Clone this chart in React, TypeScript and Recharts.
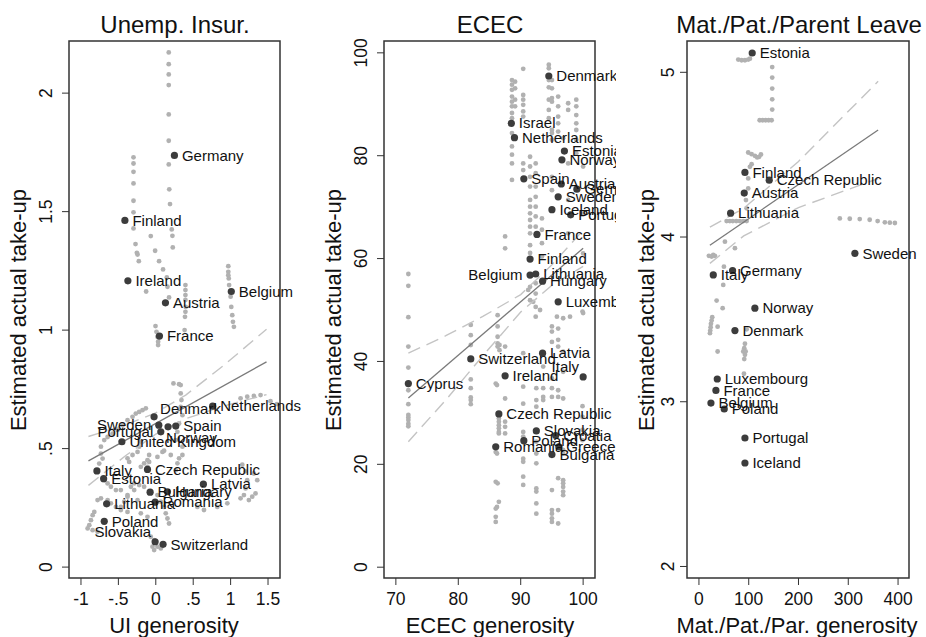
import React from 'react';
import { ScatterChart, Scatter, XAxis, YAxis, ReferenceArea } from 'recharts';

const FONT = '"Liberation Sans", Arial, Helvetica, sans-serif';

type Pt = [number, number];
type Country = [string, number, number];

// ---- Unemp. Insur. ----
const uiTicksX = [-1, -0.5, 0, 0.5, 1, 1.5];
const uiTicksY = [0, 0.5, 1, 1.5, 2];

const uiCountries: Country[] = [
  ['Germany', 0.249, 1.737], ['Finland', -0.413, 1.463], ['Ireland', -0.373, 1.208],
  ['Belgium', 1.009, 1.163], ['Austria', 0.129, 1.115], ['France', 0.049, 0.975],
  ['Netherlands', 0.76, 0.679], ['Denmark', -0.023, 0.634], ['Sweden', 0.04, 0.599],
  ['Portugal', 0.067, 0.571], ['Norway', 0.164, 0.592], ['Spain', 0.267, 0.595],
  ['United Kingdom', -0.453, 0.529], ['Italy', -0.787, 0.406], ['Estonia', -0.697, 0.373],
  ['Czech Republic', -0.111, 0.412], ['Latvia', 0.636, 0.35], ['Bulgaria', -0.076, 0.316],
  ['Hungary', 0.156, 0.318], ['Romania', -0.009, 0.274], ['Lithuania', -0.657, 0.267],
  ['Poland', -0.689, 0.193], ['Slovakia', -0.009, 0.107], ['Switzerland', 0.097, 0.096],
];

const uiGrey: Pt[] = [
  [0.173, 2.172], [0.173, 2.122], [0.173, 2.079], [0.173, 2.034], [0.173, 1.91], [0.173, 1.799],
  [0.173, 1.699], [0.18, 1.594], [0.19, 1.532], [0.213, 1.425], [0.222, 1.398], [0.227, 1.349],
  [-0.298, 1.729], [-0.298, 1.703], [-0.298, 1.668], [-0.298, 1.619], [-0.298, 1.546], [-0.298, 1.497],
  [-0.298, 1.429], [-0.271, 1.363], [-0.253, 1.326], [-0.244, 1.319], [-0.227, 1.291],
  [-0.067, 1.397], [-0.009, 1.335], [0.044, 1.291], [0.097, 1.256], [0.147, 1.222], [0.156, 1.183],
  [0.177, 1.138], [-0.129, 1.163],
  [0.396, 1.19], [0.396, 1.169], [0.396, 1.148], [0.396, 1.127], [0.4, 1.098], [0.396, 1.077],
  [0.39, 1.056], [0.385, 1.0],
  [0.969, 1.27], [0.969, 1.246], [0.969, 1.232], [0.975, 1.218], [0.98, 1.19], [1.0, 1.141],
  [1.009, 1.098], [1.022, 1.063], [1.031, 1.035], [1.044, 1.014],
  [-0.004, 1.017], [0.009, 0.993], [0.022, 0.972], [0.031, 0.951], [0.031, 0.937],
  [0.236, 0.775], [0.333, 0.768], [0.333, 0.733], [0.343, 0.705], [0.333, 0.676], [0.356, 0.641],
  [0.311, 0.606], [0.289, 0.571], [0.267, 0.536], [0.356, 0.508], [0.356, 0.473], [0.311, 0.772],
  [-0.267, 0.648], [-0.222, 0.655], [-0.178, 0.662], [-0.133, 0.67],
  [-0.311, 0.634], [-0.378, 0.62], [-0.444, 0.599], [-0.511, 0.578], [-0.578, 0.563], [-0.644, 0.549],
  [-0.689, 0.536], [-0.733, 0.508], [-0.733, 0.479], [-0.711, 0.458], [-0.756, 0.437],
  [-0.2, 0.529], [-0.222, 0.508], [-0.244, 0.486], [-0.311, 0.473], [-0.378, 0.459], [-0.356, 0.444],
  [0.111, 0.491], [0.2, 0.473], [0.311, 0.459], [-0.111, 0.451],
  [-0.089, 0.473], [-0.089, 0.444], [-0.111, 0.423], [0.289, 0.438], [0.267, 0.409],
  [0.089, 0.486], [0.022, 0.465], [-0.2, 0.423], [-0.156, 0.438],
  [1.156, 0.432], [1.2, 0.404], [1.222, 0.367], [1.2, 0.332], [1.178, 0.304], [1.133, 0.29],
  [1.244, 0.283], [1.289, 0.297], [1.333, 0.311], [1.356, 0.367], [1.311, 0.395],
  [-0.689, 0.367], [-0.644, 0.353], [-0.6, 0.339], [-0.533, 0.325], [-0.467, 0.325], [-0.378, 0.304],
  [-0.289, 0.353], [-0.222, 0.346], [-0.156, 0.339],
  [-0.822, 0.233], [-0.844, 0.219], [-0.867, 0.198], [-0.889, 0.177], [-0.911, 0.163], [-0.844, 0.156],
  [-0.778, 0.149],
  [-0.644, 0.283], [-0.6, 0.269], [-0.533, 0.254], [-0.467, 0.241], [-0.378, 0.233],
  [0.133, 0.227], [0.156, 0.205], [0.177, 0.184], [0.111, 0.254], [0.067, 0.276],
  [-0.067, 0.128], [-0.022, 0.114], [0.022, 0.086], [0.067, 0.079], [-0.044, 0.086], [-0.022, 0.072],
  [0.022, 0.304], [-0.244, 0.283],
  [0.556, 0.254], [0.644, 0.241], [0.822, 0.254], [0.956, 0.269],
  [1.133, 0.712], [1.222, 0.719], [1.311, 0.722], [1.4, 0.726], [1.533, 0.7], [1.62, 0.688],
  [-0.333, 0.339], [-0.289, 0.325], [-0.378, 0.297], [-0.422, 0.276], [-0.467, 0.254],
  [-0.778, 0.283], [-0.733, 0.29], [-0.2, 0.227], [-0.111, 0.212],
];

const uiFit: Pt[] = [[-0.9, 0.448], [1.48, 0.866]];
const uiUpper: Pt[] = [[-0.9, 0.551], [-0.4, 0.601], [0, 0.651], [0.4, 0.726], [0.9, 0.849], [1.48, 1.004]];
const uiLower: Pt[] = [[-0.9, 0.345], [-0.4, 0.471], [0, 0.561], [0.4, 0.626], [0.9, 0.679], [1.48, 0.728]];

// ---- ECEC ----
const ececTicksX = [70, 80, 90, 100];
const ececTicksY = [0, 20, 40, 60, 80, 100];

const ececCountries: Country[] = [
  ['Denmark', 94.5, 95.5], ['Israel', 88.5, 86.3], ['Netherlands', 89.0, 83.5],
  ['Estonia', 97.0, 80.9], ['Norway', 96.6, 79.2], ['Spain', 90.5, 75.5],
  ['Austria', 96.5, 74.5], ['Germany', 99.0, 73.5], ['Sweden', 96.0, 72.0],
  ['Iceland', 95.0, 69.5], ['Portugal', 98.0, 68.5], ['France', 92.6, 64.7],
  ['Finland', 91.5, 59.9], ['Belgium', 91.5, 56.8], ['Lithuania', 92.4, 57.0],
  ['Hungary', 93.5, 55.6], ['Luxembourg', 96.0, 51.6], ['Latvia', 93.5, 41.6],
  ['Italy', 100.0, 37.0], ['Switzerland', 82.0, 40.5], ['Ireland', 87.5, 37.2],
  ['Cyprus', 72.0, 35.7], ['Czech Republic', 86.5, 29.8], ['Slovakia', 92.5, 26.5],
  ['Croatia', 95.6, 25.6], ['Poland', 90.5, 24.6], ['Greece', 96.1, 23.4],
  ['Romania', 86.0, 23.4], ['Bulgaria', 95.0, 21.9],
];

const ececGrey: Pt[] = [
  [72, 57.0], [72, 54.7], [72, 48.6], [72, 42.9], [72, 38.8], [72, 34.4], [72, 31.7], [72, 29.6],
  [72, 29.1], [72, 28.6], [72, 27.9], [72, 27.4],
  [82, 47.1], [82, 45.1], [82, 43.2], [82, 36.5], [82, 34.8], [82, 33.0], [82, 32.5], [82, 31.7],
  [86.3, 49.0], [86.3, 46.8], [86.3, 44.8], [86.3, 43.5], [86.6, 43.2], [86.3, 42.9], [86.6, 42.2],
  [86, 35.7], [86.2, 35.4], [86, 22.4], [86.2, 22.1], [86, 16.6], [86.3, 16.3], [86.5, 12.7],
  [86.2, 11.7], [86, 11.4], [86, 9.8], [86, 8.8],
  [86.5, 28.9], [86.5, 28.3], [86.5, 27.6], [86.5, 27.0], [86.5, 26.3], [86.5, 26.0],
  [87.5, 42.9], [87.5, 32.8], [87.5, 28.3], [87.5, 27.3], [87.5, 26.0], [87.5, 64.3], [87.5, 62.0],
  [90.4, 41.6], [90.4, 35.1], [90.4, 31.8], [90.4, 26.3], [90.4, 25.4], [90.4, 21.1], [90.4, 20.5],
  [90.4, 17.6], [90.4, 16.0],
  [92.5, 34.8], [92.5, 32.5], [92.5, 31.2], [92.5, 24.4], [92.5, 22.1], [92.5, 20.2], [92.5, 15.3],
  [92.5, 14.7], [92.5, 12.4], [92.5, 10.4],
  [93.6, 39.0], [93.6, 34.8], [93.6, 33.1], [93.6, 32.5],
  [95, 46.8], [95, 45.8], [95, 43.8], [95, 36.7], [95, 34.8], [95, 33.1], [95, 15.0], [95, 11.1],
  [95, 10.4], [95, 9.5], [95, 8.8],
  [96, 46.4], [96, 44.2], [96, 42.9], [96, 34.4], [96, 33.1], [96, 17.3], [96, 11.1], [96, 8.5],
  [96.8, 48.4], [96.8, 41.9], [96.8, 38.0], [96.8, 32.8], [96.8, 22.8], [96.8, 22.1], [96.8, 16.9],
  [96.8, 16.3], [96.8, 15.6], [96.8, 14.7], [96.8, 14.0],
  [97.9, 48.7], [99.9, 49.7], [99.9, 31.3], [99.9, 29.2], [99.9, 26.7], [99.9, 24.7],
  [88.6, 94.7], [88.6, 93.8], [88.6, 92.8], [88.6, 91.5], [88.6, 90.5], [88.6, 89.6], [88.6, 88.3],
  [88.6, 87.3], [88.6, 84.4], [88.6, 81.8], [88.6, 80.2], [88.6, 78.5], [88.6, 75.3],
  [89.1, 94.4], [89.1, 93.1], [89.1, 90.9], [89.1, 89.6],
  [90.4, 96.9], [90.4, 91.8], [90.4, 90.9], [90.4, 89.9], [90.4, 88.6], [90.4, 87.6], [90.4, 78.5],
  [90.4, 77.2],
  [91.5, 79.8], [91.5, 77.9], [91.5, 75.9], [91.5, 74.0], [91.5, 71.4], [91.5, 70.1], [91.5, 68.8],
  [91.5, 67.5], [91.5, 66.2], [91.5, 64.9], [91.5, 62.6], [91.5, 61.1], [91.5, 54.5], [91.5, 51.9],
  [92.4, 78.5], [92.4, 76.6], [92.4, 74.0], [92.4, 72.0], [92.4, 70.1], [92.4, 68.2], [92.4, 66.2],
  [92.4, 55.2], [92.4, 53.2], [92.4, 50.6], [92.4, 48.7],
  [93.4, 67.8], [93.4, 65.6], [93.4, 63.0], [93.4, 60.4],
  [94.5, 97.7], [94.5, 97.0], [94.5, 94.7], [94.5, 93.3], [94.5, 90.9], [94.5, 88.9], [94.5, 87.3],
  [95, 94.7], [95, 93.1], [95, 91.2], [95, 90.5], [95, 85.0], [95, 84.4], [95, 83.1], [95, 75.9],
  [95, 73.3],
  [96, 91.5], [96, 89.6], [96, 87.6], [96, 86.3], [96, 84.7], [96.8, 83.4],
  [97.6, 90.2], [97.6, 88.9], [97.6, 78.5], [97.6, 71.4], [97.6, 64.9],
  [98.9, 90.9], [98.9, 89.6], [98.9, 87.9], [98.9, 86.3], [98.9, 85.0], [98.9, 83.1], [98.9, 80.5],
  [100, 77.9], [100, 68.8], [100, 61.0],
  [91.2, 53.9], [92.0, 51.6], [93.1, 50.0], [95.8, 48.7], [100, 49.4],
];

const ececFit: Pt[] = [[72, 32.9], [100, 62.0]];
const ececUpper: Pt[] = [[72, 41.6], [78, 45.0], [84, 48.8], [90, 53.0], [95, 58.8], [100, 65.5]];
const ececLower: Pt[] = [[72, 24.4], [78, 32.5], [84, 41.2], [90, 49.6], [95, 54.8], [100, 58.5]];

// ---- Mat./Pat./Parent Leave ----
const leaveTicksX = [0, 100, 200, 300, 400];
const leaveTicksY = [2, 3, 4, 5];

const leaveCountries: Country[] = [
  ['Estonia', 107, 5.117], ['Finland', 92.4, 4.392], ['Czech Republic', 141.2, 4.345],
  ['Austria', 91, 4.267], ['Lithuania', 63.6, 4.145], ['Sweden', 313.3, 3.901],
  ['Italy', 28.8, 3.77], ['Germany', 67.6, 3.796], ['Norway', 112.4, 3.568],
  ['Denmark', 72.3, 3.432], ['Luxembourg', 36.8, 3.138], ['France', 34.1, 3.069],
  ['Belgium', 24.1, 2.992], ['Poland', 50.8, 2.956], ['Portugal', 92.4, 2.78],
  ['Iceland', 92.4, 2.628],
];

const leaveGrey: Pt[] = [
  [79, 5.077], [85.7, 5.073], [92.4, 5.073], [99, 5.077], [102.4, 5.083],
  [147.2, 5.032], [147.2, 4.968], [147.2, 4.901], [147.2, 4.836], [147.2, 4.774],
  [122, 4.709], [128, 4.709], [134, 4.709], [140, 4.709], [146, 4.709],
  [99, 4.513], [105.8, 4.503], [112.4, 4.493], [117, 4.483], [121, 4.487], [124.5, 4.501],
  [105.8, 4.442], [102.4, 4.426], [99, 4.356], [99, 4.295], [94.4, 4.224], [95.8, 4.174],
  [55.6, 4.097], [62, 4.097], [68, 4.097], [75, 4.097], [82, 4.097], [89, 4.097], [95.8, 4.097],
  [283, 4.113], [303, 4.111], [323, 4.109], [343, 4.105], [359, 4.097], [373.5, 4.089],
  [383.5, 4.087], [393.6, 4.085],
  [52.2, 3.972], [72.3, 3.932], [20, 3.886], [25.5, 3.881], [28.7, 3.891], [32, 3.886],
  [50.2, 3.82], [48.8, 3.709], [35.5, 3.614], [47.6, 3.568],
  [26.7, 3.513], [25.5, 3.493], [24.1, 3.473], [23.5, 3.453], [22.7, 3.432], [22.1, 3.416],
  [37.5, 3.456], [37.5, 3.305],
  [92.4, 3.352], [91, 3.325], [89, 3.305], [93.8, 3.305], [92.4, 3.285], [91, 3.259], [90.4, 3.17],
  [95.8, 3.44],
];

const leaveFit: Pt[] = [[22, 3.95], [360, 4.65]];
const leaveUpper: Pt[] = [[22, 4.06], [90, 4.175], [200, 4.459], [360, 4.945]];
const leaveLower: Pt[] = [[22, 3.84], [90, 4.007], [200, 4.179], [360, 4.355]];

// label placement around the dark points (default: right)
const LABEL_POS: Record<string, { dx: number; dy: number; anchor: 'start' | 'end' }> = {
  r: { dx: 7.5, dy: 0, anchor: 'start' },
  l: { dx: -7.5, dy: 0, anchor: 'end' },
  ul: { dx: -4, dy: -10, anchor: 'end' },
  ur: { dx: 6, dy: -8, anchor: 'start' },
  dr: { dx: -2, dy: 11, anchor: 'start' },
};
const uiSides: Record<string, string> = { Sweden: 'l', Portugal: 'l', Slovakia: 'ul', Denmark: 'ur', Norway: 'dr' };
const ececSides: Record<string, string> = { Belgium: 'l', Italy: 'ul' };
const leaveSides: Record<string, string> = {};

const toXY = (pts: Pt[]) => pts.map(([x, y]) => ({ x, y }));
const toCountries = (cs: Country[]) => cs.map(([name, x, y]) => ({ name, x, y }));
const rFmt = (v: number) => String(v).replace(/^(-?)0\./, '$1.');

const NoShape = () => <g />;

type PanelProps = {
  left: number;
  width: number;
  margin: { top: number; right: number; bottom: number; left: number };
  xDomain: [number, number];
  yDomain: [number, number];
  xTicks: number[];
  yTicks: number[];
  yGap: number;
  grey: Pt[];
  countries: Country[];
  fit: Pt[];
  upper: Pt[];
  lower: Pt[];
  sides: Record<string, string>;
};

function Panel(p: PanelProps) {
  const XTick = (t: any) => (
    <text x={t.x} y={t.y + 20} textAnchor="middle" fontSize={17.5} fill="#111" fontFamily={FONT}>
      {rFmt(t.payload.value)}
    </text>
  );
  const YTick = (t: any) => {
    const bx = t.x - p.yGap;
    return (
      <text x={bx} y={t.y} transform={`rotate(-90 ${bx} ${t.y})`} textAnchor="middle" fontSize={17.5} fill="#111" fontFamily={FONT}>
        {rFmt(t.payload.value)}
      </text>
    );
  };
  const dot = (s: any) => <circle cx={s.cx} cy={s.cy} r={2.4} fill="#b1b1b1" />;
  const bigDot = (s: any) => <circle cx={s.cx} cy={s.cy} r={3.6} fill="#3c3c3c" />;
  const label = (s: any) => {
    const pos = LABEL_POS[p.sides[s.payload.name] ?? 'r'];
    return (
      <text x={s.cx + pos.dx} y={s.cy + pos.dy + 5.2} textAnchor={pos.anchor} fontSize={15} fill="#111" fontFamily={FONT}>
        {s.payload.name}
      </text>
    );
  };
  const countries = toCountries(p.countries);
  return (
    <div style={{ position: 'absolute', left: p.left, top: 0 }}>
      <ScatterChart width={p.width} height={637} margin={p.margin}>
        <XAxis
          type="number"
          dataKey="x"
          domain={p.xDomain}
          ticks={p.xTicks}
          interval={0}
          height={40}
          axisLine={false}
          tickSize={7}
          tickMargin={0}
          tickLine={{ stroke: '#333' }}
          tick={XTick}
        />
        <YAxis
          type="number"
          dataKey="y"
          domain={p.yDomain}
          ticks={p.yTicks}
          interval={0}
          width={40}
          axisLine={false}
          tickSize={7}
          tickMargin={0}
          tickLine={{ stroke: '#333' }}
          tick={YTick}
        />
        <Scatter data={toXY(p.grey)} shape={dot} isAnimationActive={false} />
        <Scatter data={toXY(p.upper)} line={{ stroke: '#c4c4c4', strokeWidth: 1.4, strokeDasharray: '13 7' }} shape={NoShape} isAnimationActive={false} />
        <Scatter data={toXY(p.lower)} line={{ stroke: '#c4c4c4', strokeWidth: 1.4, strokeDasharray: '13 7' }} shape={NoShape} isAnimationActive={false} />
        <Scatter data={toXY(p.fit)} line={{ stroke: '#7a7a7a', strokeWidth: 1.3 }} shape={NoShape} isAnimationActive={false} />
        <Scatter data={countries} shape={bigDot} isAnimationActive={false} />
        <Scatter data={countries} shape={label} isAnimationActive={false} />
        <ReferenceArea
          x1={p.xDomain[0]}
          x2={p.xDomain[1]}
          y1={p.yDomain[0]}
          y2={p.yDomain[1]}
          fill="none"
          stroke="#333"
          strokeWidth={1.5}
          ifOverflow="visible"
        />
      </ScatterChart>
    </div>
  );
}

export default function App() {
  const t = { fontFamily: FONT, fill: '#111' };
  return (
    <div style={{ position: 'absolute', left: 0, top: 0, width: 926, height: 637, background: '#fff' }}>
      <Panel
        left={0}
        width={310}
        margin={{ top: 41, right: 30, bottom: 19, left: 29 }}
        xDomain={[-1.16, 1.66]}
        yDomain={[-0.046, 2.22]}
        xTicks={uiTicksX}
        yTicks={uiTicksY}
        yGap={10}
        grey={uiGrey}
        countries={uiCountries}
        fit={uiFit}
        upper={uiUpper}
        lower={uiLower}
        sides={uiSides}
      />
      <Panel
        left={310}
        width={306}
        margin={{ top: 41, right: 21, bottom: 19, left: 34 }}
        xDomain={[68.1, 101.9]}
        yDomain={[-2.1, 102.3]}
        xTicks={ececTicksX}
        yTicks={ececTicksY}
        yGap={10}
        grey={ececGrey}
        countries={ececCountries}
        fit={ececFit}
        upper={ececUpper}
        lower={ececLower}
        sides={ececSides}
      />
      <Panel
        left={616}
        width={310}
        margin={{ top: 41, right: 17, bottom: 19, left: 31 }}
        xDomain={[-24, 422]}
        yDomain={[1.93, 5.19]}
        xTicks={leaveTicksX}
        yTicks={leaveTicksY}
        yGap={6}
        grey={leaveGrey}
        countries={leaveCountries}
        fit={leaveFit}
        upper={leaveUpper}
        lower={leaveLower}
        sides={leaveSides}
      />
      <svg width={926} height={637} style={{ position: 'absolute', left: 0, top: 0, pointerEvents: 'none' }}>
        <text x={175} y={33} fontSize={24} textAnchor="middle" {...t}>Unemp. Insur.</text>
        <text x={490} y={33} fontSize={24} textAnchor="middle" {...t}>ECEC</text>
        <text x={799} y={33} fontSize={24} textAnchor="middle" {...t}>Mat./Pat./Parent Leave</text>
        <text x={174} y={633} fontSize={22} textAnchor="middle" {...t}>UI generosity</text>
        <text x={490} y={633} fontSize={22} textAnchor="middle" {...t}>ECEC generosity</text>
        <text x={797} y={633} fontSize={22} textAnchor="middle" {...t}>Mat./Pat./Par. generosity</text>
        <text x={26} y={310} transform="rotate(-90 26 310)" fontSize={22} textAnchor="middle" {...t}>Estimated actual take-up</text>
        <text x={341} y={310} transform="rotate(-90 341 310)" fontSize={22} textAnchor="middle" {...t}>Estimated actual take-up</text>
        <text x={654} y={310} transform="rotate(-90 654 310)" fontSize={22} textAnchor="middle" {...t}>Estimated actual take-up</text>
      </svg>
    </div>
  );
}
